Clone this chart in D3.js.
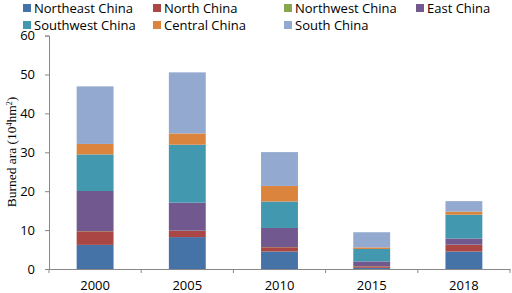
<!DOCTYPE html>
<html><head><meta charset="utf-8">
<script src="https://cdn.jsdelivr.net/npm/d3@7"></script>
<style>body{margin:0;background:#fff}svg{display:block}</style>
</head><body>
<script>
const years = ["2000","2005","2010","2015","2018"];
const regions = ["Northeast China","North China","Northwest China","East China","Southwest China","Central China","South China"];
const colors = ["#4572A7","#AA4643","#89A54E","#71588F","#4198AF","#DB843D","#93A9CF"];
const northeast = [6.2, 8.2, 4.5, 0.3, 4.5];
const north     = [3.5, 1.6, 1.1, 0.4, 1.7];
const northwest = [0.05, 0.05, 0.05, 0.05, 0.05];
const east      = [10.3, 7.2, 4.9, 1.2, 1.6];
const southwest = [9.4, 14.9, 6.8, 3.2, 6.1];
const central   = [2.7, 2.9, 4.0, 0.4, 0.8];
const south     = [14.8, 15.7, 8.7, 3.9, 2.7];
const yTicks = [0,10,20,30,40,50,60];

const series = [northeast, north, northwest, east, southwest, central, south];
const W=512,H=293;
const svg=d3.select("body").append("svg").attr("width",W).attr("height",H);
const x=d3.scaleBand().domain(years).range([49,510]);
const y=d3.scaleLinear().domain([0,60]).range([269,35.6]);

const rows = years.map((yr,i)=>{const o={year:yr}; regions.forEach((r,k)=>o[r]=series[k][i]); return o;});
const stack=d3.stack().keys(regions)(rows);
const bw = x.bandwidth()*0.4;
stack.forEach((s,k)=>{
  svg.append("g").attr("fill",colors[k]).selectAll("rect").data(s).join("rect")
    .attr("x",d=>x(d.data.year)+x.bandwidth()/2-bw/2)
    .attr("width",bw)
    .attr("y",d=>y(d[1]))
    .attr("height",d=>Math.max(0,y(d[0])-y(d[1])));
});

// y axis
const ya=svg.append("g").attr("transform","translate(49,0)")
  .call(d3.axisLeft(y).tickValues(yTicks).tickSize(4).tickPadding(10));
ya.select(".domain").attr("stroke","#888");
ya.selectAll(".tick line").attr("stroke","#888");
ya.selectAll("text").attr("font-family","'Open Sans', sans-serif").attr("font-size",13).attr("fill","#000");
// x axis
const xa=svg.append("g").attr("transform","translate(0,269)")
  .call(d3.axisBottom(x).tickSize(0).tickPadding(12));
xa.select(".domain").attr("stroke","#888");
xa.selectAll("text").attr("font-family","'Open Sans', sans-serif").attr("font-size",13).attr("fill","#000");
// x boundary ticks
svg.append("g").selectAll("line").data(years.concat(["end"])).join("line")
  .attr("x1",d=>d==="end"?x.range()[1]:x(d)).attr("x2",d=>d==="end"?x.range()[1]:x(d))
  .attr("y1",269).attr("y2",273).attr("stroke","#888");

// y label
svg.append("text").attr("transform","translate(16,152) rotate(-90)")
  .attr("text-anchor","middle").attr("font-family","'Liberation Serif', 'Times New Roman', serif")
  .attr("font-size",13.5)
  .html('Burned ara (10<tspan baseline-shift="super" font-size="8">4</tspan>hm<tspan baseline-shift="super" font-size="8">2</tspan>)');

// legend
const lx=[23,153,284,416], ly=[8,25];
const lg=svg.append("g").selectAll("g").data(regions).join("g")
  .attr("transform",(d,i)=>`translate(${lx[i%4]},${ly[Math.floor(i/4)]})`);
lg.append("rect").attr("x",0).attr("y",-4).attr("width",8).attr("height",8).attr("fill",(d,i)=>colors[i]);
lg.append("text").attr("x",11).attr("y",4.5).attr("font-family","'Open Sans', sans-serif").attr("font-size",13).text(d=>d);
</script>
</body></html>
